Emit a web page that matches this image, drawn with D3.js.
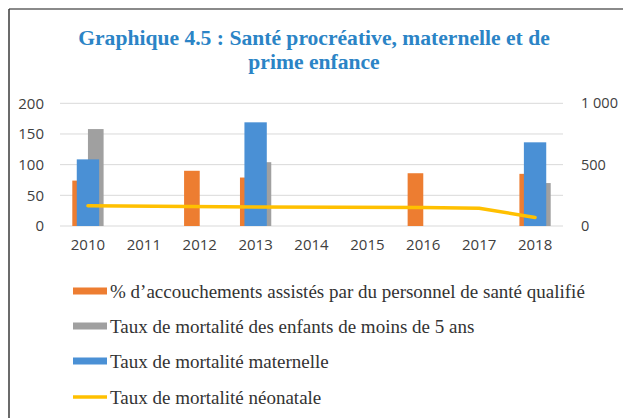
<!DOCTYPE html>
<html><head><meta charset="utf-8">
<script src="https://cdn.jsdelivr.net/npm/d3@7"></script>
<style>html,body{margin:0;padding:0;background:#fff;}svg{display:block;}</style>
</head><body>
<script>
const years = ["2010","2011","2012","2013","2014","2015","2016","2017","2018"];
const accouchements = [74, null, 90, 79, null, null, 86, null, 85];
const mortEnfants = [158, null, null, 104, null, null, null, null, 70];
const mortMaternelle = [543, null, null, 845, null, null, null, null, 682];
const mortNeonatale = [33, null, null, 31, null, null, 30, 29, 14];
const leftTicks = [0, 50, 100, 150, 200];
const rightTicks = [0, 500, 1000];
const titleLines = ["Graphique 4.5 : Santé procréative, maternelle et de", "prime enfance"];
const legendItems = [
  {label: "% d’accouchements assistés par du personnel de santé qualifié", color: "#ed7d31", type: "bar"},
  {label: "Taux de mortalité des enfants de moins de 5 ans", color: "#a0a0a0", type: "bar"},
  {label: "Taux de mortalité maternelle", color: "#4a90d5", type: "bar"},
  {label: "Taux de mortalité néonatale", color: "#ffc000", type: "line"}
];

const W = 623, H = 418;
const svg = d3.select("body").append("svg").attr("width", W).attr("height", H);

// frame
svg.append("line").attr("x1", 9).attr("x2", W).attr("y1", 9).attr("y2", 9).attr("stroke", "#8a8a8a").attr("stroke-width", 2);
svg.append("line").attr("x1", 9).attr("x2", 9).attr("y1", 9).attr("y2", H).attr("stroke", "#3a3a3a").attr("stroke-width", 1.5);

// title
svg.append("g").selectAll("text").data(titleLines).join("text")
  .attr("x", 314).attr("y", (d, i) => 45 + i * 24)
  .attr("text-anchor", "middle")
  .attr("font-family", "Liberation Serif, serif").attr("font-weight", "bold")
  .attr("font-size", 21.6).attr("fill", "#2b84c6")
  .text(d => d);

const x = d3.scaleBand().domain(years).range([60, 563]).padding(0);
const yL = d3.scaleLinear().domain([0, 200]).range([226, 103.3]);
const yR = d3.scaleLinear().domain([0, 1000]).range([226, 103.3]);

// gridlines
svg.append("g").selectAll("line").data(leftTicks).join("line")
  .attr("x1", 60).attr("x2", 563).attr("y1", d => yL(d)).attr("y2", d => yL(d))
  .attr("stroke", "#d9d9d9").attr("stroke-width", 1);

const axisFont = "Open Sans, sans-serif";
// left axis
const gl = svg.append("g").attr("transform", "translate(44,0)")
  .call(d3.axisLeft(yL).tickValues(leftTicks).tickSize(0).tickPadding(0));
gl.select(".domain").remove();
gl.selectAll("text").attr("font-family", axisFont).attr("font-size", 15).attr("fill", "#404040");

// right axis
const fmtR = d => d >= 1000 ? d3.format(",")(d).replace(/,/g, " ") : String(d);
const gr = svg.append("g").attr("transform", "translate(581,0)")
  .call(d3.axisRight(yR).tickValues(rightTicks).tickSize(0).tickPadding(0).tickFormat(fmtR));
gr.select(".domain").remove();
gr.selectAll("text").attr("font-family", axisFont).attr("font-size", 14.5).attr("fill", "#404040");

// x axis
const gx = svg.append("g").attr("transform", "translate(0,236)")
  .call(d3.axisBottom(x).tickSize(0).tickPadding(0));
gx.select(".domain").remove();
gx.selectAll("text").attr("font-family", axisFont).attr("font-size", 15).attr("fill", "#404040").attr("dy", "0.9em");

const bw = x.bandwidth();
const subW = bw * 0.28;
const blueW = bw * 0.4;
const ctr = d => x(d) + bw / 2;

function bars(values, color, xfn, w, scale) {
  svg.append("g").selectAll("rect")
    .data(years.map((y, i) => ({y, v: values[i]})).filter(d => d.v != null))
    .join("rect")
    .attr("x", d => xfn(d.y)).attr("width", w)
    .attr("y", d => scale(d.v)).attr("height", d => scale(0) - scale(d.v))
    .attr("fill", color);
}
bars(accouchements, legendItems[0].color, d => ctr(d) - subW, subW, yL);
bars(mortEnfants, legendItems[1].color, d => ctr(d), subW, yL);
bars(mortMaternelle, legendItems[2].color, d => ctr(d) - blueW / 2, blueW, yR);

const lineData = years.map((y, i) => ({y, v: mortNeonatale[i]})).filter(d => d.v != null);
svg.append("path").datum(lineData)
  .attr("d", d3.line().x(d => ctr(d.y)).y(d => yL(d.v)))
  .attr("fill", "none").attr("stroke", legendItems[3].color).attr("stroke-width", 3.5)
  .attr("stroke-linecap", "round").attr("stroke-linejoin", "round");

// legend
const lg = svg.append("g");
const legY = [291, 326, 361, 397];
legendItems.forEach((it, i) => {
  if (it.type === "bar") {
    lg.append("rect").attr("x", 73).attr("y", legY[i] - 3.5).attr("width", 34).attr("height", 7).attr("fill", it.color);
  } else {
    lg.append("line").attr("x1", 73).attr("x2", 107).attr("y1", legY[i]).attr("y2", legY[i])
      .attr("stroke", it.color).attr("stroke-width", 3.5);
  }
  lg.append("text").attr("x", 110).attr("y", legY[i]).attr("dy", "0.35em")
    .attr("font-family", "Liberation Serif, serif").attr("font-size", 19).attr("fill", "#333")
    .text(it.label);
});
</script>
</body></html>
